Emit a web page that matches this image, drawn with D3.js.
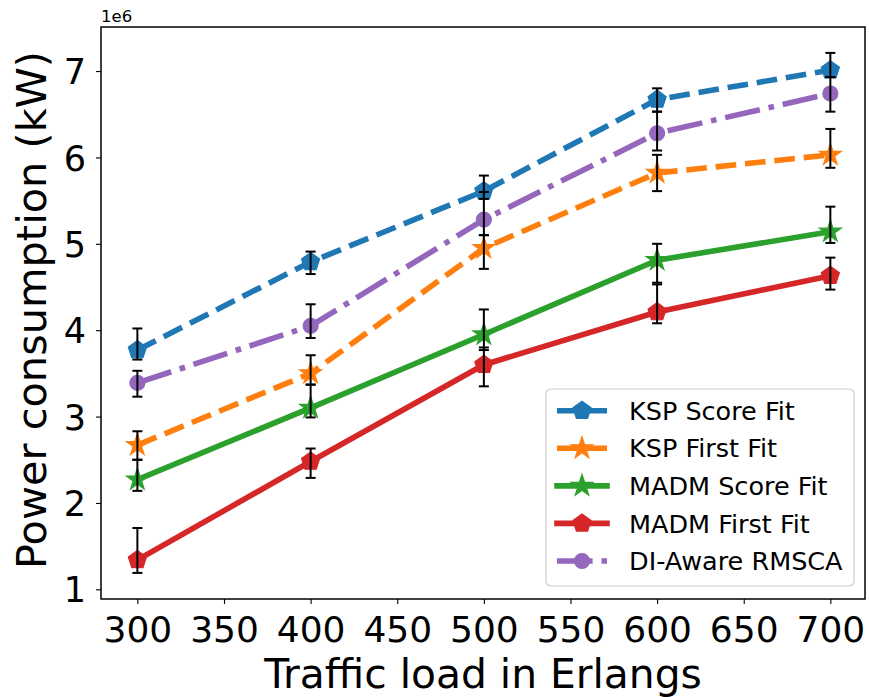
<!DOCTYPE html>
<html>
<head>
<meta charset="utf-8">
<script src="https://cdn.jsdelivr.net/npm/d3@7"></script>
<style>
  body { margin: 0; background: #fff; }
  svg text { font-family: "DejaVu Sans", sans-serif; fill: #000; }
</style>
</head>
<body>
<svg id="chart" width="869" height="697"></svg>
<script>
// traffic loads (Erlangs)
const loads = [300, 400, 500, 600, 700];

// series names, in legend order
const names = ['KSP Score Fit', 'KSP First Fit', 'MADM Score Fit', 'MADM First Fit', 'DI-Aware RMSCA'];

// mean power consumption (kW)
const kspScore = [3.77e6, 4.79e6, 5.61e6, 6.67e6, 7.01e6];
const kspFirst = [2.67e6, 3.50e6, 4.95e6, 5.82e6, 6.03e6];
const madmScore = [2.27e6, 3.10e6, 3.95e6, 4.81e6, 5.14e6];
const madmFirst = [1.34e6, 2.48e6, 3.60e6, 4.21e6, 4.63e6];
const diAware = [3.39e6, 4.05e6, 5.28e6, 6.28e6, 6.74e6];

// error bar ends (low / high)
const kspScoreLo = [3.66e6, 4.65e6, 5.52e6, 6.53e6, 6.93e6];
const kspScoreHi = [4.02e6, 4.91e6, 5.79e6, 6.80e6, 7.21e6];
const kspFirstLo = [2.50e6, 3.37e6, 4.71e6, 5.61e6, 5.88e6];
const kspFirstHi = [2.83e6, 3.71e6, 5.10e6, 6.03e6, 6.33e6];
const madmScoreLo = [2.14e6, 2.99e6, 3.77e6, 4.55e6, 5.01e6];
const madmScoreHi = [2.50e6, 3.37e6, 4.24e6, 5.00e6, 5.43e6];
const madmFirstLo = [1.19e6, 2.29e6, 3.35e6, 4.08e6, 4.47e6];
const madmFirstHi = [1.71e6, 2.63e6, 3.80e6, 4.53e6, 4.84e6];
const diAwareLo = [3.23e6, 3.91e6, 5.10e6, 6.08e6, 6.53e6];
const diAwareHi = [3.53e6, 4.30e6, 5.60e6, 6.53e6, 6.93e6];

const xTicks = [300, 350, 400, 450, 500, 550, 600, 650, 700];
const yTicks = [1e6, 2e6, 3e6, 4e6, 5e6, 6e6, 7e6];

// styling per series
const colors = ['#1f77b4', '#ff7f0e', '#2ca02c', '#d62728', '#9467bd'];
const dashes = ['20.6,8.9', '20.6,8.9', null, null, '35.6,8.9,5.6,8.9'];
const markers = ['pentagon', 'star', 'star', 'pentagon', 'circle'];

const series = names.map((name, i) => ({
  name,
  color: colors[i],
  dash: dashes[i],
  marker: markers[i],
  values: [kspScore, kspFirst, madmScore, madmFirst, diAware][i],
  lo: [kspScoreLo, kspFirstLo, madmScoreLo, madmFirstLo, diAwareLo][i],
  hi: [kspScoreHi, kspFirstHi, madmScoreHi, madmFirstHi, diAwareHi][i]
}));

const svg = d3.select('#chart');
const plotLeft = 101, plotRight = 865, plotTop = 27, plotBottom = 599;
const lw = 5.6;

const x = d3.scaleLinear().domain([279, 720]).range([plotLeft, plotRight]);
const y = d3.scaleLinear().domain([0.888e6, 7.51e6]).range([plotBottom, plotTop]);

// marker paths
function polygonPath(n, r, inner) {
  const pts = [];
  const steps = inner ? n * 2 : n;
  for (let k = 0; k < steps; k++) {
    const a = -Math.PI / 2 + k * Math.PI * 2 / steps;
    const rr = inner && k % 2 === 1 ? r * inner : r;
    pts.push([rr * Math.cos(a), rr * Math.sin(a)]);
  }
  return 'M' + pts.map(p => p[0].toFixed(2) + ',' + p[1].toFixed(2)).join('L') + 'Z';
}
function markerPath(kind) {
  if (kind === 'pentagon') return polygonPath(5, 9.5);
  if (kind === 'star') return polygonPath(5, 11.5, 0.382);
  return d3.symbol(d3.symbolCircle, Math.PI * 7.5 * 7.5)();
}

const plot = svg.append('g');

// lines and markers
const line = d3.line().x((d, i) => x(loads[i])).y(d => y(d));
series.forEach(s => {
  plot.append('path')
    .attr('d', line(s.values))
    .attr('fill', 'none')
    .attr('stroke', s.color)
    .attr('stroke-width', lw)
    .attr('stroke-dasharray', s.dash)
    .attr('stroke-linecap', s.dash ? 'butt' : 'square')
    .attr('stroke-linejoin', 'round');
  plot.selectAll(null)
    .data(s.values)
    .enter()
    .append('path')
    .attr('d', markerPath(s.marker))
    .attr('transform', (d, i) => `translate(${x(loads[i])},${y(d)})`)
    .attr('fill', s.color)
    .attr('stroke', s.color)
    .attr('stroke-width', 1.2);
});

// error bars on top
series.forEach(s => {
  loads.forEach((l, i) => {
    const cx = x(l);
    plot.append('line')
      .attr('x1', cx).attr('x2', cx)
      .attr('y1', y(s.lo[i])).attr('y2', y(s.hi[i]))
      .attr('stroke', '#000').attr('stroke-width', 2);
    [s.lo[i], s.hi[i]].forEach(v => {
      plot.append('line')
        .attr('x1', cx - 5).attr('x2', cx + 5)
        .attr('y1', y(v)).attr('y2', y(v))
        .attr('stroke', '#000').attr('stroke-width', 2);
    });
  });
});

// axes
const xAxis = svg.append('g')
  .attr('transform', `translate(0,${plotBottom})`)
  .call(d3.axisBottom(x).tickValues(xTicks).tickSize(5).tickPadding(0).tickFormat(d3.format('d')));
xAxis.select('.domain').remove();
xAxis.selectAll('.tick line').attr('stroke-width', 1.1);
xAxis.selectAll('.tick text')
  .attr('font-size', 36)
  .attr('y', 43)
  .attr('dy', 0);

const yAxis = svg.append('g')
  .attr('transform', `translate(${plotLeft},0)`)
  .call(d3.axisLeft(y).tickValues(yTicks).tickSize(5).tickPadding(10).tickFormat(d => d / 1e6));
yAxis.select('.domain').remove();
yAxis.selectAll('.tick line').attr('stroke-width', 1.1);
yAxis.selectAll('.tick text').attr('font-size', 35).attr('dy', '0.36em');

// frame
svg.append('rect')
  .attr('x', plotLeft).attr('y', plotTop)
  .attr('width', plotRight - plotLeft).attr('height', plotBottom - plotTop)
  .attr('fill', 'none').attr('stroke', '#000').attr('stroke-width', 1.5);

// offset label
svg.append('text').attr('x', plotLeft).attr('y', 22).attr('font-size', 16.5).text('1e6');

// axis labels
svg.append('text')
  .attr('x', (plotLeft + plotRight) / 2).attr('y', 688)
  .attr('text-anchor', 'middle').attr('font-size', 40.8)
  .text('Traffic load in Erlangs');

svg.append('text')
  .attr('transform', `translate(46,${(plotTop + plotBottom) / 2 - 3}) rotate(-90)`)
  .attr('text-anchor', 'middle').attr('font-size', 41.5)
  .text('Power consumption (kW)');

// legend
const legend = svg.append('g');
legend.append('rect')
  .attr('x', 546).attr('y', 389).attr('width', 308).attr('height', 197)
  .attr('rx', 5)
  .attr('fill', '#fff').attr('fill-opacity', 0.8)
  .attr('stroke', '#cccccc').attr('stroke-width', 1.2);

const rowY = d3.scalePoint().domain(names).range([410.7, 561]);
series.forEach(s => {
  const g = legend.append('g').attr('transform', `translate(0,${rowY(s.name)})`);
  g.append('line')
    .attr('x1', 557).attr('x2', 607)
    .attr('stroke', s.color).attr('stroke-width', lw)
    .attr('stroke-dasharray', s.dash)
    .attr('stroke-linecap', s.dash ? 'butt' : 'square');
  g.append('path')
    .attr('d', markerPath(s.marker))
    .attr('transform', 'translate(582,0)')
    .attr('fill', s.color).attr('stroke', s.color).attr('stroke-width', 1.2);
  g.append('text')
    .attr('x', 629).attr('dy', '0.36em')
    .attr('font-size', 25.5)
    .text(s.name);
});
</script>
</body>
</html>
